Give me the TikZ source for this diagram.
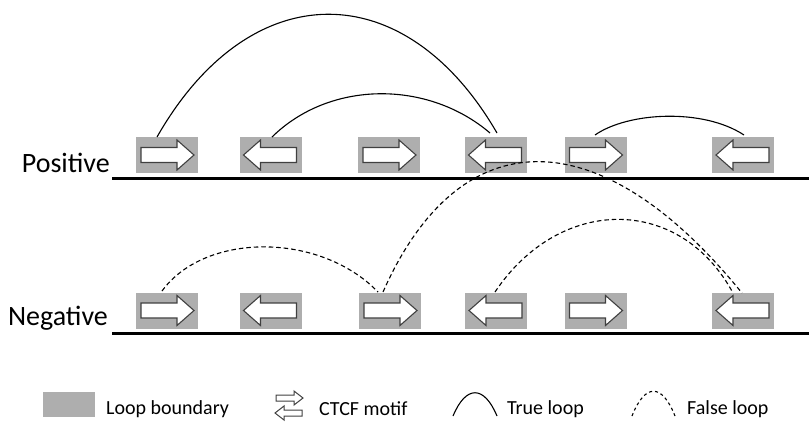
\documentclass[tikz,border=0pt]{standalone}
\usepackage{fontspec}
\setmainfont{Carlito}
\begin{document}
\begin{tikzpicture}[x=1pt,y=-1pt,
  bnd/.style={fill=boxgray,draw=none,minimum width=62pt,minimum height=36pt,inner sep=0pt},
  arr/.style={draw=arrgray,fill=white,line width=1.1pt,line join=miter},
  base/.style={line width=3pt},
  trueloop/.style={line width=1.1pt},
  falseloop/.style={line width=1.1pt,dash pattern=on 4.5pt off 3pt},
  lbl/.style={font=\fontsize{28}{28}\selectfont,anchor=east,inner sep=0pt},
  leg/.style={font=\fontsize{20}{20}\selectfont,anchor=west,inner sep=0pt}]
\definecolor{boxgray}{HTML}{AEAEAE}
\definecolor{arrgray}{HTML}{404040}
\useasboundingbox (0,0) rectangle (809,421);
\tikzset{
  rarrow/.pic={\draw[arr] (-26,-7.5) -- (10,-7.5) -- (10,-15) -- (27,0) -- (10,15) -- (10,7.5) -- (-26,7.5) -- cycle;},
  larrow/.pic={\draw[arr] (26,-7.5) -- (-10,-7.5) -- (-10,-15) -- (-27,0) -- (-10,15) -- (-10,7.5) -- (26,7.5) -- cycle;}
}
% positive row
\node[lbl] (pos) at (110,163) {Positive};
\coordinate (pl0) at (112,178);
\coordinate (pl1) at (809,178);
\draw[base] (pl0) -- (pl1);
\foreach \n/\x/\d in {1/167/r,2/270.5/l,3/389/r,4/495.5/l,5/595.5/r,6/743/l}{
  \node[bnd] (p\n) at (\x,155) {};
  \pic at (p\n) {\d arrow};
}
% negative row
\node[lbl] (neg) at (108,318) {Negative};
\coordinate (nl0) at (112,333);
\coordinate (nl1) at (809,333);
\draw[base] (nl0) -- (nl1);
\foreach \n/\x/\d in {1/167/r,2/270.5/l,3/390/r,4/496/l,5/595.5/r,6/743/l}{
  \node[bnd] (n\n) at (\x,310.5) {};
  \pic at (n\n) {\d arrow};
}
% true loops
\coordinate (a1s) at (157,137);
\coordinate (a1e) at (497,133);
\draw[trueloop] (a1s) .. controls (250,-26) and (405,-26) .. (a1e);
\coordinate (a2s) at (272,137);
\coordinate (a2e) at (490,133);
\draw[trueloop] (a2s) .. controls (330,80) and (428,80) .. (a2e);
\coordinate (a3s) at (595,135);
\coordinate (a3e) at (744,135);
\draw[trueloop] (a3s) .. controls (628,112) and (703,108) .. (a3e);
% false loops
\coordinate (b1s) at (162,291);
\coordinate (b1e) at (378,292);
\draw[falseloop] (b1s) .. controls (205,232) and (320,232) .. (b1e);
\coordinate (b2s) at (383,292);
\coordinate (b2e) at (742,293);
\draw[falseloop] (b2s) .. controls (460,118) and (600,118) .. (b2e);
\coordinate (b3s) at (495,292);
\coordinate (b3e) at (733,293);
\draw[falseloop] (b3s) .. controls (560,195) and (680,195) .. (b3e);
% legend
\node[bnd,minimum width=52pt,minimum height=25pt] (lb) at (69,404.5) {};
\node[leg] (lbt) at (106,409) {Loop boundary};
\begin{scope}[shift={(289,398)}]
\draw[arr,line width=1pt] (-13,-3) -- (5,-3) -- (5,-7) -- (14,0) -- (5,7) -- (5,3) -- (-13,3) -- cycle;
\end{scope}
\begin{scope}[shift={(289,413)}]
\draw[arr,line width=1pt] (13,-3) -- (-5,-3) -- (-5,-7) -- (-14,0) -- (-5,7) -- (-5,3) -- (13,3) -- cycle;
\end{scope}
\node[leg] (ctt) at (319,409) {CTCF motif};
\coordinate (ts) at (453,416);
\coordinate (te) at (497,416);
\draw[trueloop] (ts) .. controls (466,385) and (484,385) .. (te);
\node[leg] (tlt) at (507,409) {True loop};
\coordinate (fs) at (632,416);
\coordinate (fe) at (675,416);
\draw[falseloop,dash pattern=on 3pt off 3pt] (fs) .. controls (645,383) and (662,383) .. (fe);
\node[leg] (flt) at (687,409) {False loop};
\end{tikzpicture}
\end{document}
